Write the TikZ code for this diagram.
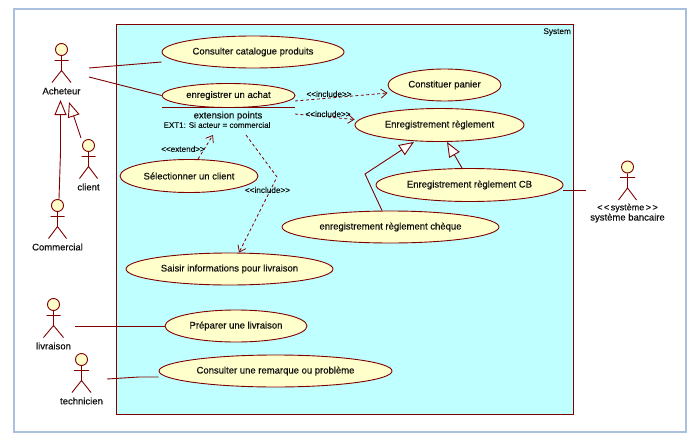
\documentclass[tikz,border=0pt]{standalone}
\usepackage{fontspec}
\setmainfont{Liberation Sans}
\newfontfamily\umlfont[FakeBold=0.35,Ligatures=NoCommon]{Liberation Sans}
\newfontfamily\umlthin[FakeBold=0.15,Ligatures=NoCommon]{Liberation Sans}
\usetikzlibrary{shapes.geometric,arrows.meta}
\definecolor{umlline}{HTML}{800000}
\definecolor{umlfill}{HTML}{FFFFCB}
\definecolor{sysfill}{HTML}{C0FFFF}
\definecolor{framecol}{HTML}{A9C1DF}
\definecolor{txt}{HTML}{101010}
\tikzset{
  x=1pt,y=-1pt,
  usecase/.style={ellipse,draw=umlline,line width=0.9pt,fill=umlfill,inner sep=0pt,font=\umlfont\fontsize{9.5}{10}\selectfont,text=txt},
  lab/.style={inner sep=0pt,font=\umlfont\fontsize{9.5}{10}\selectfont,text=txt},
  small/.style={inner sep=0pt,font=\umlthin\fontsize{8.2}{10}\selectfont,text=txt},
  head/.style={circle,draw=umlline,line width=0.9pt,fill=umlfill,inner sep=0pt,minimum size=12pt},
  assoc/.style={draw=umlline,line width=0.9pt},
  gen/.style={draw=umlline,line width=0.9pt,-{Triangle[open,fill=white,length=15pt,width=12pt]}},
  dep/.style={draw=umlline,line width=0.8pt,dash pattern=on 3pt off 2.5pt,-{Straight Barb[length=6pt,width=9pt]}},
}
% name, head x, head y, half arm, half leg, label
\newcommand{\umlactor}[6]{%
  \node[head] (#1) at (#2,#3) {};
  \coordinate (#1al) at (#2-#4,#3+11);
  \coordinate (#1ar) at (#2+#4,#3+11);
  \coordinate (#1b) at (#2,#3+21);
  \coordinate (#1ll) at (#2-#5,#3+33);
  \coordinate (#1lr) at (#2+#5,#3+33);
  \draw[assoc] (#1.south) -- (#1b) -- (#1ll) (#1b) -- (#1lr) (#1al) -- (#1ar);
  \node[lab] (#1t) at (#2,#3+41.5) {#6};
}
\begin{document}
\begin{tikzpicture}
\useasboundingbox (0,0) rectangle (700,441);
\node[draw=framecol,line width=2pt,fill=white,minimum width=672pt,minimum height=422pt,inner sep=0pt] (frame) at (350,220.5) {};
\node[draw=umlline,fill=sysfill,minimum width=457pt,minimum height=390pt,inner sep=0pt,line width=1pt] (sys) at (345,219.5) {};
\node[small,anchor=east] (systitle) at (571,32) {System};

\node[usecase,minimum width=182pt,minimum height=32pt] (cat) at (253,52) {Consulter catalogue produits};
\node[usecase,minimum width=133pt,minimum height=24pt] (ach) at (228.5,95.5) {enregistrer un achat};
\coordinate (sepl) at (162,107.5);
\coordinate (sepr) at (295,107.5);
\draw[assoc] (sepl) -- (sepr);
\node[lab] (extp) at (228,116) {extension points};
\node[small,font=\umlthin\fontsize{8}{10}\selectfont] (ext1) at (217,125) {EXT1: Si acteur = commercial};
\node[usecase,minimum width=138pt,minimum height=33pt] (sel) at (189,176) {Sélectionner un client};
\node[usecase,minimum width=207pt,minimum height=32pt] (sai) at (229.5,269) {Saisir informations pour livraison};
\node[usecase,minimum width=142pt,minimum height=32pt] (pre) at (236,326) {Préparer une livraison};
\node[usecase,minimum width=233pt,minimum height=32pt] (rem) at (275.5,371) {Consulter une remarque ou problème};
\node[usecase,minimum width=113pt,minimum height=32pt] (pan) at (444.5,85) {Constituer panier};
\node[usecase,minimum width=169pt,minimum height=33pt] (reg) at (439.5,125) {Enregistrement règlement};
\node[usecase,minimum width=187pt,minimum height=33pt] (cb) at (469.5,185) {Enregistrement règlement CB};
\node[usecase,minimum width=217pt,minimum height=32pt] (chq) at (390.5,227) {enregistrement règlement chèque};

\umlactor{acheteur}{61.5}{49.5}{7}{9.5}{Acheteur}
\umlactor{client}{88.5}{145.5}{7}{9}{client}
\umlactor{commercial}{57.5}{205.5}{7}{9}{Commercial}
\umlactor{livraison}{53.5}{304.5}{7}{10}{livraison}
\umlactor{technicien}{81.5}{359.5}{7.5}{9.5}{technicien}
\node[head] (bancaire) at (627.5,167) {};
\coordinate (bancaireb) at (627.5,188);
\coordinate (bancairell) at (618.5,200);
\coordinate (bancairelr) at (636.5,200);
\coordinate (bancaireal) at (620,177.5);
\coordinate (bancairear) at (635,177.5);
\draw[assoc] (bancaire.south) -- (bancaireb) -- (bancairell) (bancaireb) -- (bancairelr) (bancaireal) -- (bancairear);
\node[small,font=\umlthin\fontsize{9}{10}\selectfont] (stereo) at (627.5,208) {<\,<\,système\,>\,>};
\node[lab] (bancairet) at (627.5,218) {système bancaire};

% free ends beside the actors
\coordinate (a1) at (89,68);
\coordinate (a2) at (89,77);
\coordinate (a3) at (586,190.5);
\coordinate (a4) at (75,326.5);
\coordinate (a5) at (107,379);
\coordinate (a5k) at (139,377);
\coordinate (ctip) at (69,102);
\coordinate (cstart) at (81,138);
\coordinate (mtip) at (60.5,100);
\coordinate (mstart) at (59,199);
\coordinate (mk) at (60.5,152);
\coordinate (extip) at (213,135);
\coordinate (inck) at (277,177);
\coordinate (incs) at (246,135);
\coordinate (i1s) at (295,101);
\coordinate (i2s) at (295,114);
\coordinate (chqk) at (365,174);

\draw[assoc] (a1) -- (cat.west |- 0,62);
\draw[assoc] (a2) -- (ach.west);
\draw[assoc] (cb.east |- a3) -- (a3);
\draw[assoc] (a4) -- (pre.west |- a4);
\draw[assoc] (a5) -- (a5k) -- (rem.west |- a5k);

\draw[gen] (mstart) -- (mk) -- (mtip);
\draw[gen] (cstart) -- (ctip);
\draw[gen] (cb.north -| 462,0) -- (reg.south -| 447,0);
\draw[gen] (chq.north -| 382,0) -- (chqk) -- (reg.south -| 414,0);

\draw[dep] (i1s) -- (pan.west |- 0,93);
\node[small] (l1) at (329,94) {<<include>>};
\draw[dep] (i2s) -- (reg.west |- 0,119.5);
\node[small] (l2) at (328,114) {<<include>>};
\draw[dep] (sel.north -| 198,0) -- (extip);
\node[small] (l3) at (183,149) {<<extend>>};
\draw[dep] (incs) -- (inck) -- (sai.north -| 239,0);
\node[small] (l4) at (267.5,190) {<<include>>};
\end{tikzpicture}
\end{document}
